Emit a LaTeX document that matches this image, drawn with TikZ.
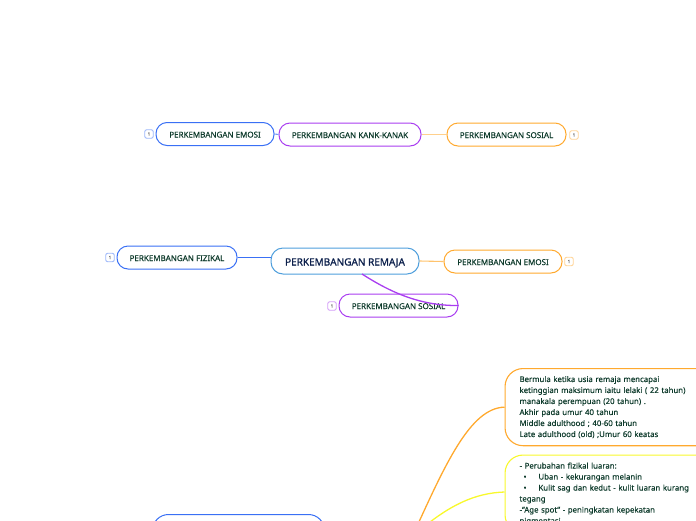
\documentclass[tikz,border=0pt]{standalone}
\usepackage{fontspec}
\setmainfont{Noto Sans}[FakeBold=0.25]
\newfontfamily\heavyfont{Noto Sans}[FakeBold=1.0]
\definecolor{cblue}{HTML}{3A70F5}
\definecolor{cpurple}{HTML}{A93DF0}
\definecolor{corange}{HTML}{FFA92E}
\definecolor{cyellow}{HTML}{F8F82C}
\definecolor{ccentral}{HTML}{4F9FDC}
\definecolor{ctext}{HTML}{0E3B2C}
\definecolor{cnavy}{HTML}{0B1F4B}
\tikzset{
  pill/.style={draw=#1,line width=1pt,rounded corners=11pt,fill=white,text=ctext,font=\fontsize{8}{10}\selectfont,inner sep=0pt,minimum height=23pt,text height=7pt,text depth=0pt},
  centralbox/.style={draw=ccentral,line width=1pt,rounded corners=12pt,fill=white,text=cnavy,font=\heavyfont\fontsize{10}{12}\selectfont,inner sep=0pt,minimum height=26pt,minimum width=148pt,text height=9pt,text depth=0pt},
  bigbox/.style={draw=#1,line width=1.1pt,rounded corners=18pt,fill=white,text=ctext,font=\fontsize{7.8}{11}\selectfont,anchor=north west,align=left,text width=181pt,inner xsep=14.5pt,inner ysep=7.5pt},
  badge/.style={draw=#1,line width=0.9pt,rounded corners=2pt,fill=white,text=black!55,font=\fontsize{4.5}{5}\selectfont,inner sep=0pt,minimum width=8.5pt,minimum height=8.5pt},
  link/.style={draw=#1,line width=1.1pt}
}
\begin{document}
\begin{tikzpicture}[x=1pt,y=-1pt]
\useasboundingbox (0,0) rectangle (696,520);
\clip (0,0) rectangle (696,520);
% free ends of the connectors, running off the lower edge
\coordinate (orangestart) at (413,535);
\coordinate (yellowstart) at (420,530);
\coordinate (remajaout) at (362,274);
% nodes
\node[pill=cblue,minimum width=118pt] (emosia) at (215,134) {PERKEMBANGAN EMOSI};
\node[pill=cpurple,minimum width=142pt] (kank) at (350,134.5) {PERKEMBANGAN KANK-KANAK};
\node[pill=corange,minimum width=119pt] (sosiala) at (506.5,134.5) {PERKEMBANGAN SOSIAL};
\node[pill=cblue,minimum width=120pt] (fizikal) at (177,257.5) {PERKEMBANGAN FIZIKAL};
\node[centralbox] (remaja) at (345,261) {PERKEMBANGAN REMAJA};
\node[pill=corange,minimum width=118pt] (emosib) at (503,261.5) {PERKEMBANGAN EMOSI};
\node[pill=cpurple,minimum width=119pt] (sosialb) at (398.5,305.5) {PERKEMBANGAN SOSIAL};
\node[bigbox=corange] (orangebox) at (504.5,368) {Bermula ketika usia remaja mencapai\\ketinggian maksimum iaitu lelaki ( 22 tahun)\\manakala perempuan (20 tahun) .\\Akhir pada umur 40 tahun\\Middle adulthood ; 40-60 tahun\\Late adulthood (old) ;Umur 60 keatas};
\node[bigbox=cyellow] (yellowbox) at (504.5,454.5) {- Perubahan fizikal luaran:\\\hspace*{4pt}•\hspace{12pt}Uban - kekurangan melanin\\\hspace*{4pt}•\hspace{12pt}Kulit sag dan kedut - kulit luaran kurang\\tegang\\-"Age spot" - peningkatan kepekatan\\pigmentasi};
\node[draw=cblue,line width=1pt,rounded corners=16pt,fill=white,minimum width=172pt,minimum height=40pt,anchor=north west,inner sep=0pt] (bluebox) at (152,514) {};
% badges
\node[badge=cblue!50] (b1) at (149,134) {1};
\node[badge=corange!50] (b2) at (574,135) {1};
\node[badge=cblue!50] (b3) at (110,257.5) {1};
\node[badge=corange!50] (b4) at (569,261.5) {1};
\node[badge=cpurple!50] (b5) at (332,306) {1};
% connectors
\draw[link=cblue!70] (emosia.east) -- (kank.west);
\draw[link=corange!55] (kank.east) -- (sosiala.west);
\draw[link=cblue] (fizikal.east) -- (remaja.west |- fizikal.east);
\draw[link=corange!70] (remaja.east) -- (emosib.west);
\draw[link=cpurple,line width=1.3pt] (remajaout) .. controls (390,292) and (420,306) .. (sosialb.east);
\draw[link=corange,line width=1.3pt] (orangestart) .. controls (445,465) and (470,408) .. (orangebox.west);
\draw[link=cyellow,line width=1.3pt] (yellowstart) .. controls (450,505) and (475,493) .. (yellowbox.west |- 0,492);
\end{tikzpicture}
\end{document}
